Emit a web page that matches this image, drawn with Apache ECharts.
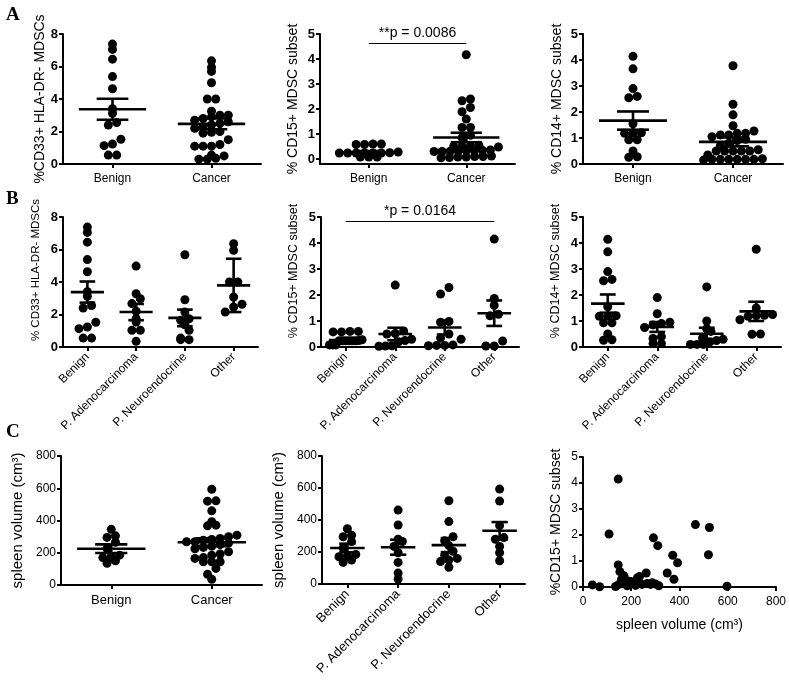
<!DOCTYPE html>
<html><head><meta charset="utf-8">
<script src="https://cdn.jsdelivr.net/npm/echarts@6/dist/echarts.min.js"></script>
<style>html,body{margin:0;padding:0;background:#fff}#c{width:789px;height:685px}</style>
</head><body><div id="c"></div>
<script>
// ---------- categories ----------
const catsA = ['Benign', 'Cancer'];
const catsB = ['Benign', 'P. Adenocarcinoma', 'P. Neuroendocrine', 'Other'];

// ---------- %CD33+ HLA-DR- MDSCs ----------
const cd33Benign = [7.38, 7.05, 6.45, 5.38, 4.63, 3.4, 3.12, 2.55, 2.4, 1.52, 1.23, 1.13, 0.55, 0.55];
const cd33Cancer = [6.35, 5.95, 5.7, 5.0, 4.0, 4.0, 3.25, 3.0, 3.0, 2.9, 2.8, 2.7, 2.6, 2.5, 2.4, 2.3, 2.2, 2.0, 1.95, 1.9, 1.5, 1.2, 1.1, 1.1, 1.1, 0.55, 0.5, 0.35, 0.3, 0.3];
const cd33Adeno = [4.98, 3.28, 2.97, 2.67, 2.2, 1.74, 1.54, 1.03, 1.03, 0.35];
const cd33Neuro = [5.68, 2.91, 2.15, 1.74, 1.64, 1.37, 1.03, 0.55, 0.45, 0.45];
const cd33Other = [6.36, 5.95, 4.0, 4.0, 3.08, 2.63, 2.46, 2.15];
const cd33MeanA = [3.37, 2.47], cd33SemA = [0.65, 0.33];
const cd33MeanB = [3.38, 2.15, 1.79, 3.79], cd33SemB = [0.65, 0.5, 0.51, 1.64];

// ---------- % CD15+ MDSC subset ----------
const cd15Benign = [0.6, 0.6, 0.58, 0.58, 0.28, 0.25, 0.24, 0.24, 0.24, 0.24, 0.24, 0.24, 0.08, 0.08, 0.08];
const cd15Cancer = [4.17, 2.4, 2.33, 2.06, 1.89, 1.6, 1.26, 1.26, 0.95, 0.85, 0.55, 0.52, 0.5, 0.5, 0.48, 0.36, 0.35, 0.34, 0.33, 0.32, 0.31, 0.3, 0.3, 0.12, 0.1, 0.1, 0.08, 0.08, 0.06, 0.05];
const cd15Adeno = [2.38, 0.62, 0.52, 0.5, 0.3, 0.25, 0.2, 0.05, 0.04, 0.03];
const cd15Neuro = [2.29, 2.04, 0.98, 0.95, 0.5, 0.35, 0.3, 0.08, 0.06, 0.06, 0.05];
const cd15Other = [4.15, 1.87, 1.6, 1.26, 1.2, 0.23, 0.04, 0.04];
const cd15MeanA = [0.27, 0.86], cd15SemA = [0.05, 0.19];
const cd15MeanB = [0.27, 0.5, 0.75, 1.3], cd15SemB = [0.05, 0.24, 0.27, 0.49];
const pTextA = '**p = 0.0086', pLevelA = 4.64;
const pTextB = '*p = 0.0164', pLevelB = 4.85;

// ---------- % CD14+ MDSC subset ----------
const cd14Benign = [4.14, 3.66, 2.9, 2.6, 2.55, 1.55, 1.2, 1.18, 1.18, 0.93, 0.93, 0.5, 0.28, 0.26];
const cd14Cancer = [3.78, 2.3, 1.89, 1.47, 1.27, 1.18, 1.18, 1.12, 1.12, 1.05, 0.95, 0.9, 0.8, 0.7, 0.55, 0.5, 0.5, 0.5, 0.5, 0.5, 0.35, 0.2, 0.18, 0.18, 0.18, 0.18, 0.18, 0.18, 0.15];
const cd14Adeno = [1.9, 1.28, 0.95, 0.9, 0.85, 0.75, 0.4, 0.33, 0.13, 0.13];
const cd14Neuro = [2.31, 1.0, 0.7, 0.6, 0.35, 0.3, 0.25, 0.2, 0.1, 0.1, 0.1];
const cd14Other = [3.76, 1.5, 1.25, 1.22, 1.2, 1.18, 1.05, 0.5, 0.49];
const cd14MeanA = [1.67, 0.85], cd14SemA = [0.35, 0.17];
const cd14MeanB = [1.67, 0.77, 0.51, 1.37], cd14SemB = [0.35, 0.19, 0.23, 0.37];

// ---------- spleen volume (cm3) ----------
const spleenBenign = [345, 305, 295, 265, 225, 185, 175, 170, 150, 135];
const spleenCancer = [594, 522, 520, 460, 392, 371, 367, 309, 299, 289, 282, 278, 268, 268, 260, 250, 241, 233, 225, 206, 192, 185, 170, 165, 144, 144, 144, 103, 66, 35];
const spleenAdeno = [462, 369, 280, 265, 235, 195, 135, 68, 31];
const spleenNeuro = [520, 390, 295, 270, 240, 205, 180, 160, 150, 140, 105];
const spleenOther = [593, 518, 365, 290, 280, 235, 195, 145];
const spleenMeanA = [225, 265], spleenSemA = [27, 24];
const spleenMeanB = [225, 230, 243, 333], spleenSemB = [27, 47, 44, 54];

// ---------- spleen volume vs %CD15+ (scatter) ----------
const c3Spleen = [146, 108, 466, 524, 292, 310, 372, 520, 392, 146, 153, 349, 262, 170, 234, 226, 377, 177, 193, 39, 69, 135, 149, 170, 183, 218, 245, 266, 280, 287, 300, 314, 597, 200, 160];
const c3Cd15   = [4.15, 2.04, 2.40, 2.29, 1.89, 1.59, 1.22, 1.24, 0.93, 0.85, 0.59, 0.54, 0.54, 0.43, 0.40, 0.36, 0.30, 0.26, 0.22, 0.08, 0.01, 0.02, 0.10, 0.15, 0.05, 0.06, 0.10, 0.13, 0.10, 0.16, 0.12, 0.05, 0.03, 0.20, 0.30];

// ---------- tick values ----------
const ticksPct8 = [0, 2, 4, 6, 8];
const ticksPct5 = [0, 1, 2, 3, 4, 5];
const ticksVol = [0, 200, 400, 600, 800];

// ================= layout / rendering =================
const FONT = '"Liberation Sans", Arial, Helvetica, sans-serif';
const DOT = 9, GAP = 8.4;

// Prism-like scatter-dot layout: values binned into horizontal rows, each row centred,
// rows wider than maxW are compressed
function swarm(vals, ymin, ppuY, binH, gap, maxW) {
  const rows = {};
  vals.forEach((v, i) => {
    const r = Math.floor(((v - ymin) * ppuY) / binH);
    (rows[r] = rows[r] || []).push(i);
  });
  const out = new Array(vals.length);
  Object.keys(rows).forEach(r => {
    const ids = rows[r].sort((a, b) => vals[a] - vals[b]);
    const k = ids.length;
    const g = k > 1 ? Math.min(gap, maxW / (k - 1)) : gap;
    ids.forEach((id, j) => { out[id] = (j - (k - 1) / 2) * g; });
  });
  return out;
}

const panels = [
  { box: [63, 34, 198, 130], cats: catsA, groups: [cd33Benign, cd33Cancer], mean: cd33MeanA, sem: cd33SemA,
    y: [0, 8], ticks: ticksPct8, name: '%CD33+ HLA-DR- MDSCs', nameSize: 14, nameGap: 16, namePad: 0, bold: true, catSize: 12, rot: 0 },
  { box: [320, 34, 195, 130], cats: catsA, groups: [cd15Benign, cd15Cancer], mean: cd15MeanA, sem: cd15SemA,
    y: [-0.2, 5], ticks: ticksPct5, name: '% CD15+ MDSC subset', nameSize: 14, nameGap: 20, namePad: 0, bold: true, catSize: 12, rot: 0,
    p: { text: pTextA, level: pLevelA, from: 0, to: 1 } },
  { box: [583, 34, 200, 130], cats: catsA, groups: [cd14Benign, cd14Cancer], mean: cd14MeanA, sem: cd14SemA,
    y: [0, 5], ticks: ticksPct5, name: '% CD14+ MDSC subset', nameSize: 14, nameGap: 19, namePad: 0, bold: true, catSize: 12, rot: 0 },
  { box: [63, 217, 195, 130], cats: catsB, groups: [cd33Benign, cd33Adeno, cd33Neuro, cd33Other], mean: cd33MeanB, sem: cd33SemB,
    y: [0, 8], ticks: ticksPct8, name: '% CD33+ HLA-DR- MDSCs', nameSize: 11.5, nameGap: 21, namePad: 24, bold: true, catSize: 12, rot: 45 },
  { box: [321, 217, 198, 130], cats: catsB, groups: [cd15Benign, cd15Adeno, cd15Neuro, cd15Other], mean: cd15MeanB, sem: cd15SemB,
    y: [0, 5], ticks: ticksPct5, name: '% CD15+ MDSC subset', nameSize: 12.5, nameGap: 21, namePad: 22, bold: true, catSize: 12, rot: 45,
    p: { text: pTextB, level: pLevelB, from: 0, to: 3 } },
  { box: [583, 217, 198, 130], cats: catsB, groups: [cd14Benign, cd14Adeno, cd14Neuro, cd14Other], mean: cd14MeanB, sem: cd14SemB,
    y: [0, 5], ticks: ticksPct5, name: '% CD14+ MDSC subset', nameSize: 12.5, nameGap: 21, namePad: 22, bold: true, catSize: 12, rot: 45 },
  { box: [61, 456, 201, 129], cats: catsA, groups: [spleenBenign, spleenCancer], mean: spleenMeanA, sem: spleenSemA,
    y: [0, 800], ticks: ticksVol, name: 'spleen volume (cm³)', nameSize: 15, nameGap: 36, namePad: 0, bold: false, catSize: 13, rot: 0 },
  { box: [322, 456, 203, 128], cats: catsB, groups: [spleenBenign, spleenAdeno, spleenNeuro, spleenOther], mean: spleenMeanB, sem: spleenSemB,
    y: [0, 800], ticks: ticksVol, name: 'spleen volume (cm³)', nameSize: 15, nameGap: 36, namePad: 0, bold: false, catSize: 13, rot: 45 }
];

const option = { animation: false, backgroundColor: '#fff', grid: [], xAxis: [], yAxis: [], series: [], graphic: [] };
const axisLine = { show: true, onZero: false, lineStyle: { color: '#000', width: 2 } };
const axisTick = { show: true, length: 4, lineStyle: { color: '#000', width: 2 } };

panels.forEach((P, gi) => {
  const [l, t, w, h] = P.box;
  option.grid.push({ left: l, top: t, width: w, height: h });
  const n = P.cats.length;
  const band = w / n, ppuY = h / (P.y[1] - P.y[0]);
  option.xAxis.push({
    type: 'category', gridIndex: gi, data: P.cats, boundaryGap: true,
    axisLine, axisTick: Object.assign({ alignWithLabel: true }, axisTick),
    axisLabel: { color: '#000', fontFamily: FONT, fontSize: P.catSize, rotate: P.rot, margin: P.rot ? 8 : 9, interval: 0 },
    splitLine: { show: false }
  });
  const valIdx = option.xAxis.length;
  option.xAxis.push({ type: 'value', gridIndex: gi, min: -0.5, max: n - 0.5, show: false, splitLine: { show: false } });
  option.yAxis.push({
    type: 'value', gridIndex: gi, min: P.y[0], max: P.y[1],
    axisLine, axisTick: Object.assign({ customValues: P.ticks }, axisTick),
    axisLabel: { customValues: P.ticks, color: '#000', fontFamily: FONT, fontSize: P.bold ? 13 : 12, fontWeight: P.bold ? 'bold' : 'normal', margin: 5 },
    splitLine: { show: false },
    name: P.name, nameLocation: 'middle', nameGap: P.nameGap,
    nameTextStyle: { color: '#000', fontFamily: FONT, fontSize: P.nameSize, padding: [0, 0, 0, P.namePad] }
  });
  const pts = [];
  P.groups.forEach((vals, k) => {
    const off = swarm(vals, P.y[0], ppuY, DOT * 0.95, GAP, band * 0.66);
    vals.forEach((v, i) => pts.push([k + off[i] / band, v]));
  });
  const sc = {
    type: 'scatter', xAxisIndex: valIdx, yAxisIndex: gi, data: pts, symbol: 'circle', symbolSize: DOT,
    itemStyle: { color: '#000', opacity: 1 }, clip: false, silent: true, z: 3
  };
  if (P.p) {
    sc.markLine = {
      silent: true, symbol: 'none', animation: false,
      lineStyle: { color: '#000', width: 1, type: 'solid' },
      label: { show: true, position: 'middle', formatter: P.p.text, color: '#000', fontFamily: FONT, fontSize: 14, distance: 3 },
      data: [[{ coord: [P.p.from, P.p.level] }, { coord: [P.p.to, P.p.level] }]]
    };
  }
  option.series.push(sc);
  option.series.push({
    type: 'custom', xAxisIndex: valIdx, yAxisIndex: gi, silent: true, z: 4,
    data: P.mean.map((m, k) => [k, m, P.sem[k]]),
    renderItem: (params, api) => {
      const x = api.value(0), m = api.value(1), s = api.value(2);
      const c = api.coord([x, m]), up = api.coord([x, m + s]), dn = api.coord([x, m - s]);
      const bw = api.size([1, 0])[0];
      const mw = bw * 0.34, cw = bw * 0.16;
      const st = { stroke: '#000', lineWidth: 2.6 };
      return { type: 'group', children: [
        { type: 'line', shape: { x1: c[0] - mw, y1: c[1], x2: c[0] + mw, y2: c[1] }, style: st },
        { type: 'line', shape: { x1: c[0], y1: up[1], x2: c[0], y2: dn[1] }, style: st },
        { type: 'line', shape: { x1: c[0] - cw, y1: up[1], x2: c[0] + cw, y2: up[1] }, style: st },
        { type: 'line', shape: { x1: c[0] - cw, y1: dn[1], x2: c[0] + cw, y2: dn[1] }, style: st }
      ] };
    }
  });
});

// ---- panel C3: scatter spleen volume vs %CD15+ ----
(function () {
  const gi = option.grid.length;
  option.grid.push({ left: 583, top: 457, width: 194, height: 130 });
  option.xAxis.push({
    type: 'value', gridIndex: gi, min: 0, max: 800, axisLine, axisTick: Object.assign({ customValues: ticksVol }, axisTick),
    axisLabel: { customValues: ticksVol, color: '#000', fontFamily: FONT, fontSize: 12, margin: 9 }, splitLine: { show: false },
    name: 'spleen volume (cm³)', nameLocation: 'middle', nameGap: 31,
    nameTextStyle: { color: '#000', fontFamily: FONT, fontSize: 14 }
  });
  option.yAxis.push({
    type: 'value', gridIndex: gi, min: 0, max: 5, axisLine, axisTick: Object.assign({ customValues: ticksPct5 }, axisTick),
    axisLabel: { customValues: ticksPct5, color: '#000', fontFamily: FONT, fontSize: 12, margin: 5 }, splitLine: { show: false },
    name: '%CD15+ MDSC subset', nameLocation: 'middle', nameGap: 20,
    nameTextStyle: { color: '#000', fontFamily: FONT, fontSize: 14 }
  });
  option.series.push({
    type: 'scatter', xAxisIndex: option.xAxis.length - 1, yAxisIndex: gi, clip: false, silent: true,
    data: c3Spleen.map((v, i) => [v, c3Cd15[i]]), symbolSize: DOT, itemStyle: { color: '#000', opacity: 1 }
  });
})();

// ---- panel letters ----
[['A', 6], ['B', 190], ['C', 423]].forEach(([txt, top]) => {
  option.graphic.push({ type: 'text', left: 6, top: top,
    style: { text: txt, font: 'bold 19px "Liberation Serif", "Times New Roman", serif', fill: '#000' } });
});

const chart = echarts.init(document.getElementById('c'), null, { renderer: 'canvas' });
chart.setOption(option);
</script>
</body></html>
